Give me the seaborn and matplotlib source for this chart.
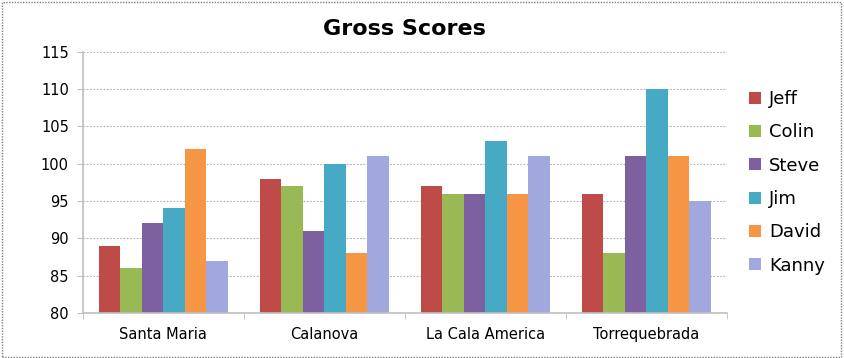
"""Gross Scores per course, grouped bar chart in the old Excel style."""

import pandas as pd
import seaborn as sns
import matplotlib.pyplot as plt
from matplotlib.patches import Rectangle
from matplotlib.ticker import FixedLocator

courses = ["Santa Maria", "Calanova", "La Cala America", "Torrequebrada"]
players = ["Jeff", "Colin", "Steve", "Jim", "David", "Kanny"]
jeff = [89, 98, 97, 96]
colin = [86, 97, 96, 88]
steve = [92, 91, 96, 101]
jim = [94, 100, 103, 110]
david = [102, 88, 96, 101]
kanny = [87, 101, 101, 95]

colors = ["#BE4B48", "#98B954", "#7D60A0", "#46AAC5", "#F69544", "#A0A8DD"]


def main() -> None:
    scores = dict(zip(players, [jeff, colin, steve, jim, david, kanny]))
    df = pd.DataFrame(
        [(c, p, scores[p][i]) for p in players for i, c in enumerate(courses)],
        columns=["course", "player", "score"],
    )

    sns.set_style("white")
    plt.rcParams["font.family"] = ["DejaVu Sans"]
    plt.rcParams["text.color"] = "black"
    plt.rcParams["xtick.color"] = "black"
    plt.rcParams["ytick.color"] = "black"

    fig = plt.figure(figsize=(8.44, 3.58), dpi=100)
    ax = fig.add_axes([0.098, 0.126, 0.763, 0.729])

    sns.barplot(data=df, x="course", y="score", hue="player", order=courses,
                hue_order=players, palette=colors, width=0.8, gap=0,
                saturation=1, ax=ax, errorbar=None, linewidth=0)

    # Excel-like axes
    ax.set_ylim(80, 115)
    ax.set_yticks(range(80, 116, 5))
    ax.set_xlim(-0.5, len(courses) - 0.5)
    ax.yaxis.grid(True, linestyle=(0, (1.5, 1.5)), color="#B0B0B0", linewidth=0.8)
    ax.set_axisbelow(True)
    for side in ("top", "right"):
        ax.spines[side].set_visible(False)
    for side in ("left", "bottom"):
        ax.spines[side].set_color("#BFBFBF")
        ax.spines[side].set_linewidth(1.2)
    ax.tick_params(axis="y", length=4, color="#BFBFBF", labelsize=10.5, pad=6, left=True)
    ax.tick_params(axis="x", length=0, labelsize=10.5, pad=10)
    ax.xaxis.set_minor_locator(FixedLocator([i - 0.5 for i in range(len(courses) + 1)]))
    ax.tick_params(axis="x", which="minor", length=4, color="#BFBFBF", bottom=True)
    ax.set_xlabel("")
    ax.set_ylabel("")

    ax.set_title("Gross Scores", fontsize=16, fontweight="bold", pad=12, color="black")

    ax.legend(loc="center left", bbox_to_anchor=(1.01, 0.5), frameon=False,
              fontsize=13, handlelength=0.65, handleheight=0.65,
              handletextpad=0.45, labelspacing=0.85)

    # dotted frame round the whole chart
    fig.patches.append(Rectangle((0.002, 0.004), 0.994, 0.99, transform=fig.transFigure,
                                 fill=False, edgecolor="#7F7F7F", linestyle=(0, (1, 1)),
                                 linewidth=1.0))

    fig.savefig("out.png", dpi=100)


if __name__ == "__main__":
    main()
